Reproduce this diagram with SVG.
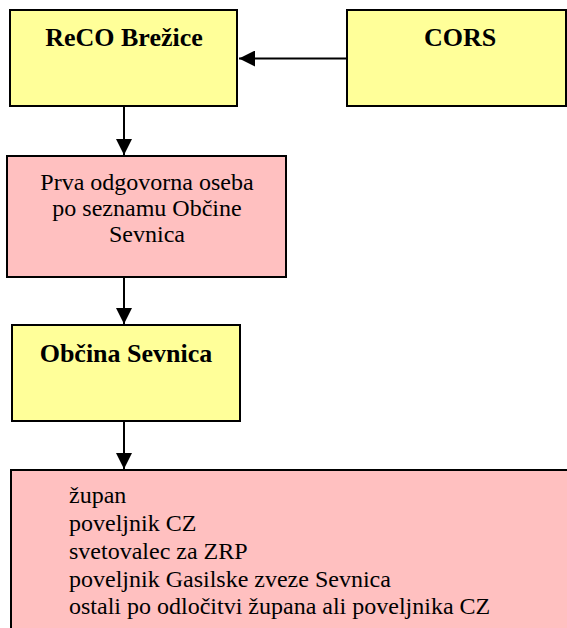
<svg xmlns="http://www.w3.org/2000/svg" width="567" height="628" viewBox="0 0 567 628">
<defs>
<style>
.y{fill:#FFFF99;stroke:#000;stroke-width:2}
.p{fill:#FFC0C0;stroke:#000;stroke-width:2}
.b{font-family:"Liberation Serif","Times New Roman",serif;font-weight:bold;font-size:26px;fill:#000;text-anchor:middle}
.r{font-family:"Liberation Serif","Times New Roman",serif;font-size:24px;fill:#000}
.c{stroke:#000;stroke-width:2;fill:none}
</style>
<marker id="ah" markerUnits="userSpaceOnUse" markerWidth="16" markerHeight="16" viewBox="0 0 16 16" refX="16" refY="8" orient="auto">
<path d="M0,0 L16,8 L0,16 Z" fill="#000"/>
</marker>
</defs>
<rect width="567" height="628" fill="#fff"/>
<g id="connectors">
<line class="c" x1="347" y1="58.5" x2="239" y2="58.5" marker-end="url(#ah)"/>
<line class="c" x1="124" y1="106" x2="124" y2="155" marker-end="url(#ah)"/>
<line class="c" x1="124" y1="277" x2="124" y2="324" marker-end="url(#ah)"/>
<line class="c" x1="124" y1="421" x2="124" y2="469" marker-end="url(#ah)"/>
</g>
<g id="reco">
<rect class="y" x="10" y="10" width="227" height="96"/>
<text class="b" x="124" y="46">ReCO Brežice</text>
</g>
<g id="cors">
<rect class="y" x="347" y="10" width="219" height="96"/>
<text class="b" x="460" y="46">CORS</text>
</g>
<g id="prva">
<rect class="p" x="7" y="156" width="279" height="121"/>
<text class="r" text-anchor="middle" x="147" y="190">Prva odgovorna oseba</text>
<text class="r" text-anchor="middle" x="147" y="216">po seznamu Občine</text>
<text class="r" text-anchor="middle" x="147" y="242">Sevnica</text>
</g>
<g id="obcina">
<rect class="y" x="12" y="325" width="228" height="96"/>
<text class="b" x="126" y="362">Občina Sevnica</text>
</g>
<g id="seznam">
<rect class="p" x="11" y="470" width="570" height="180"/>
<text class="r" x="69" y="503">župan</text>
<text class="r" x="69" y="531">poveljnik CZ</text>
<text class="r" x="69" y="559">svetovalec za ZRP</text>
<text class="r" x="69" y="587">poveljnik Gasilske zveze Sevnica</text>
<text class="r" x="69" y="614">ostali po odločitvi župana ali poveljnika CZ</text>
</g>
</svg>
